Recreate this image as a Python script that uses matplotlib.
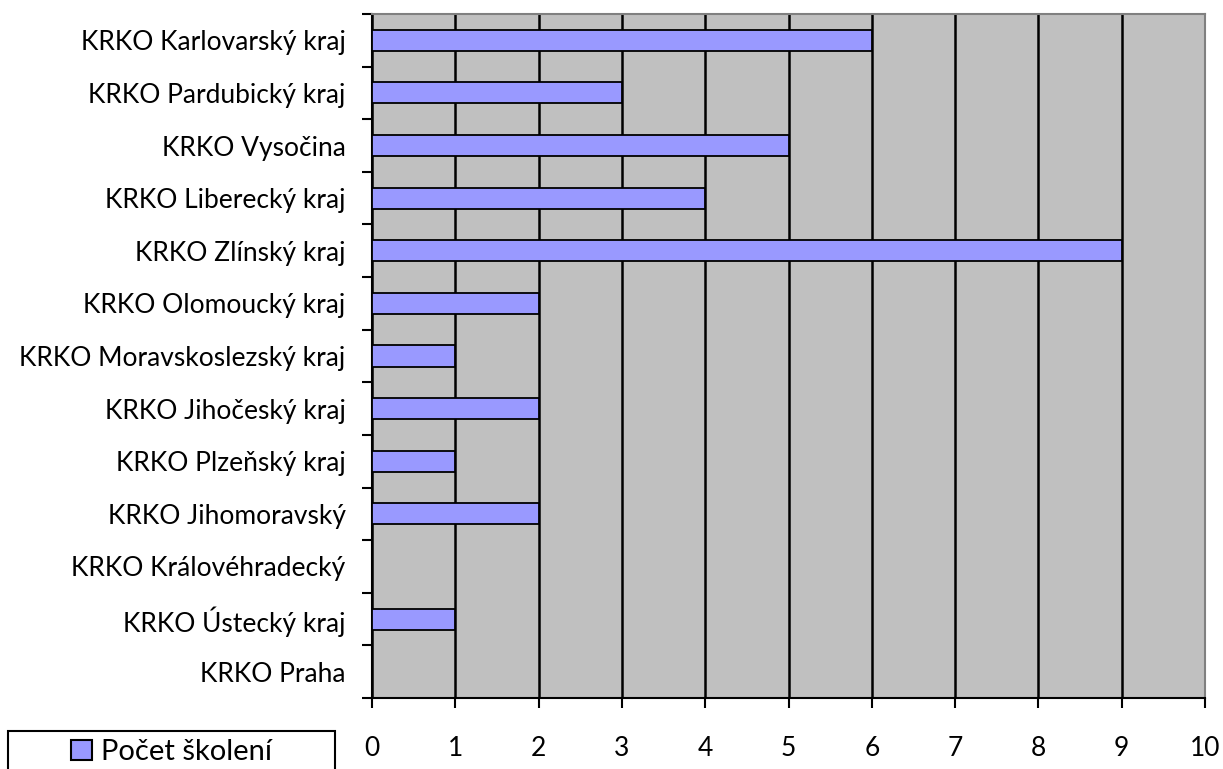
import numpy as np
import matplotlib.pyplot as plt
from matplotlib.patches import Rectangle, Patch

plt.rcParams['font.family'] = ['Lato', 'DejaVu Sans']
plt.rcParams['font.size'] = 19

# data (top to bottom as in the picture)
regions = ['KRKO Karlovarský kraj', 'KRKO Pardubický kraj', 'KRKO Vysočina',
           'KRKO Liberecký kraj', 'KRKO Zlínský kraj', 'KRKO Olomoucký kraj',
           'KRKO Moravskoslezský kraj', 'KRKO Jihočeský kraj', 'KRKO Plzeňský kraj',
           'KRKO Jihomoravský', 'KRKO Královéhradecký', 'KRKO Ústecký kraj',
           'KRKO Praha']
counts = [6, 3, 5, 4, 9, 2, 1, 2, 1, 2, 0, 1, 0]
series_name = 'Počet školení'
x_ticks = list(range(0, 11))

fig = plt.figure(figsize=(12.23, 7.69), dpi=100, facecolor='white')
ax = fig.add_axes([372/1223, 1 - 698/769, (1205 - 372)/1223, (698 - 14)/769])
ax.set_facecolor('#c0c0c0')

n = len(regions)
ypos = np.arange(n)[::-1]
ax.barh(ypos, counts, height=0.4, color='#9999ff', edgecolor='black',
        linewidth=1.3, zorder=3)

ax.set_xlim(0, 10)
ax.set_ylim(-0.5, n - 0.5)
ax.set_xticks(x_ticks)
ax.set_xticklabels([str(t) for t in x_ticks])
ax.xaxis.grid(True, color='black', linewidth=1.8, zorder=1)
ax.set_axisbelow(True)

# category labels at centres, ticks at boundaries
ax.set_yticks(ypos)
ax.set_yticklabels(regions)
ax.tick_params(axis='y', which='major', length=0, pad=19)
ax.set_yticks(np.arange(-0.5, n, 1.0), minor=True)
ax.tick_params(axis='y', which='minor', length=7, width=1.5, direction='out')
ax.tick_params(axis='x', length=7, width=1.5, direction='out', pad=20)

for s in ['left', 'bottom']:
    ax.spines[s].set_color('black')
    ax.spines[s].set_linewidth(1.5)
for s in ['top', 'right']:
    ax.spines[s].set_color('#808080')
    ax.spines[s].set_linewidth(1.5)

# legend box at lower left, cut by the figure edge
fig.patches.append(Rectangle((8/1223, -0.01), 327/1223, (769 - 731)/769 + 0.01,
                             transform=fig.transFigure, facecolor='white',
                             edgecolor='black', linewidth=1.5))
fig.legend(handles=[Patch(facecolor='#9999ff', edgecolor='black', linewidth=1.5,
                          label=series_name)],
           loc='center', bbox_to_anchor=((8 + 335) / 2 / 1223, 1 - 752/769),
           frameon=False, handlelength=0.7, handleheight=0.7, handletextpad=0.3,
           fontsize=21)

fig.savefig('out.png', dpi=100, facecolor='white')
